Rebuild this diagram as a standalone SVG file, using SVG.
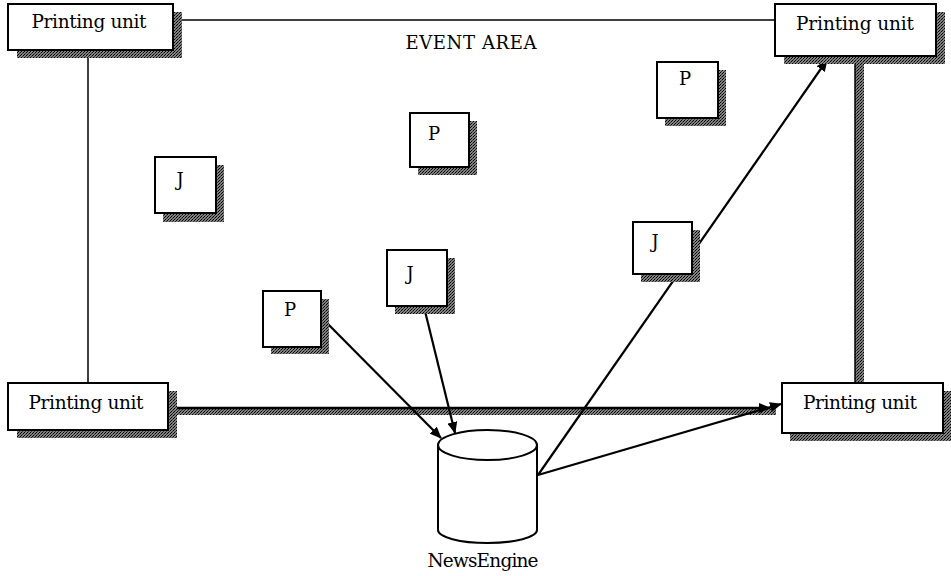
<svg xmlns="http://www.w3.org/2000/svg" width="951" height="576" viewBox="0 0 951 576">
<style>
.box{fill:#fff;stroke:#000;stroke-width:2}
.sh{fill:url(#dith)}
.lbl{font-family:"DejaVu Serif","Liberation Serif",serif;font-size:18.5px;fill:#000}
.sm{font-family:"DejaVu Serif","Liberation Serif",serif;font-size:18px;fill:#000}
.ln{stroke:#000;stroke-width:1.5;fill:none}
.ar{stroke:#000;stroke-width:2.2;fill:none;marker-end:url(#ah)}
</style>
<defs>
<pattern id="dith" width="3" height="3" patternUnits="userSpaceOnUse">
<rect width="3" height="3" fill="#808080"/>
<rect width="1" height="1" fill="#000"/>
<rect x="2" y="1" width="1" height="1" fill="#000"/>
<rect x="1" y="2" width="1" height="1" fill="#333"/>
</pattern>
<marker id="ah" viewBox="0 0 12 10" refX="11" refY="5" markerWidth="12" markerHeight="10" markerUnits="userSpaceOnUse" orient="auto">
<path d="M0,0 L12,5 L0,10 z" fill="#000"/>
</marker>
</defs>
<rect width="951" height="576" fill="#fff"/>
<g id="connectors">
<line class="ln" x1="182" y1="20" x2="775" y2="20"/>
<line class="ln" x1="88" y1="50" x2="88" y2="383"/>
<rect x="855" y="56" width="9" height="327" class="sh"/>
<line x1="855" y1="56" x2="855" y2="383" stroke="#000" stroke-width="1.5"/>
<rect x="176" y="408" width="600" height="7" class="sh"/>
<line x1="176" y1="408" x2="770" y2="408" stroke="#000" stroke-width="2.5" marker-end="url(#ah)"/>
<line class="ar" x1="322" y1="318" x2="441" y2="438"/>
<line class="ar" x1="424" y1="307" x2="455" y2="433"/>
<line class="ar" x1="538" y1="475" x2="827" y2="60"/>
<line class="ar" x1="538" y1="475" x2="781" y2="404"/>
</g>
<g id="pu-tl">
<rect x="17" y="12" width="165" height="46" class="sh"/>
<rect x="8" y="4" width="165" height="46" class="box"/>
<text x="89" y="28" class="lbl" text-anchor="middle" textLength="115">Printing unit</text>
</g>
<g id="pu-tr">
<rect x="784" y="12" width="161" height="52" class="sh"/>
<rect x="775" y="4" width="161" height="52" class="box"/>
<text x="855" y="30" class="lbl" text-anchor="middle" textLength="118">Printing unit</text>
</g>
<g id="pu-bl">
<rect x="17" y="391" width="160" height="47" class="sh"/>
<rect x="8" y="383" width="160" height="47" class="box"/>
<text x="86" y="409" class="lbl" text-anchor="middle" textLength="115">Printing unit</text>
</g>
<g id="pu-br">
<rect x="790" y="391" width="161" height="50" class="sh"/>
<rect x="782" y="383" width="161" height="50" class="box"/>
<text x="860" y="409" class="lbl" text-anchor="middle" textLength="114">Printing unit</text>
</g>
<g id="event-area">
<text x="471" y="49" class="sm" font-size="17" text-anchor="middle" textLength="131">EVENT AREA</text>
</g>
<g id="j1">
<rect x="163" y="165" width="61" height="57" class="sh"/>
<rect x="155" y="157" width="61" height="56" class="box"/>
<text x="180" y="186" class="sm" text-anchor="middle">J</text>
</g>
<g id="p1">
<rect x="418" y="121" width="59" height="54" class="sh"/>
<rect x="410" y="113" width="59" height="54" class="box"/>
<text x="434" y="140" class="sm" text-anchor="middle">P</text>
</g>
<g id="p2">
<rect x="665" y="70" width="61" height="56" class="sh"/>
<rect x="657" y="62" width="61" height="56" class="box"/>
<text x="685" y="85" class="sm" text-anchor="middle">P</text>
</g>
<g id="j2">
<rect x="641" y="230" width="59" height="52" class="sh"/>
<rect x="633" y="222" width="59" height="52" class="box"/>
<text x="655" y="248" class="sm" text-anchor="middle">J</text>
</g>
<g id="j3">
<rect x="395" y="258" width="60" height="56" class="sh"/>
<rect x="387" y="250" width="60" height="56" class="box"/>
<text x="410" y="280" class="sm" text-anchor="middle">J</text>
</g>
<g id="p3">
<rect x="271" y="299" width="58" height="55" class="sh"/>
<rect x="263" y="291" width="58" height="56" class="box"/>
<text x="290" y="316" class="sm" text-anchor="middle">P</text>
</g>
<g id="newsengine">
<path d="M438,445 L438,530 A49.5,13 0 0 0 537,530 L537,445" fill="#fff" stroke="#000" stroke-width="2"/>
<ellipse cx="487.5" cy="445" rx="49.5" ry="15" fill="#fff" stroke="#000" stroke-width="2"/>
<text x="483" y="567" class="lbl" text-anchor="middle" textLength="111">NewsEngine</text>
</g>
</svg>
